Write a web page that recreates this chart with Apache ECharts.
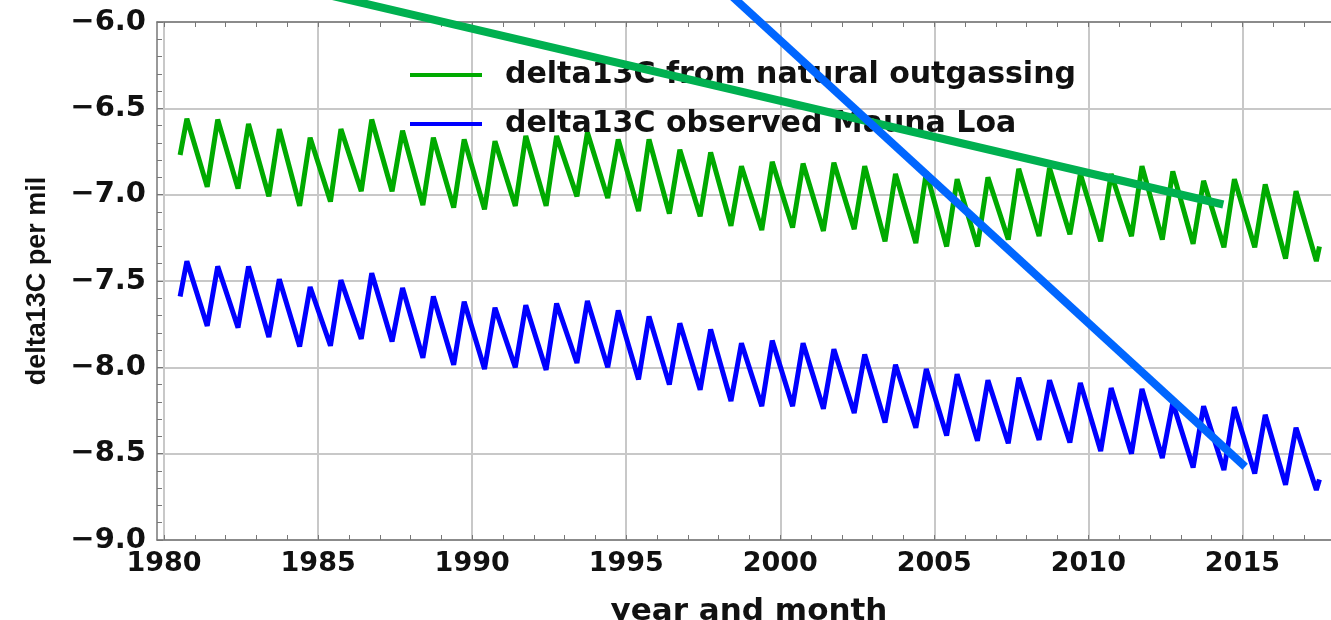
<!DOCTYPE html>
<html>
<head>
<meta charset="utf-8">
<script src="https://cdn.jsdelivr.net/npm/echarts@6/dist/echarts.min.js"></script>
<style>
  html, body { margin: 0; padding: 0; background: #fff; }
  #main { width: 1331px; height: 620px; }
</style>
</head>
<body>
<div id="main"></div>
<script>
// seasonal cycles, one peak (autumn) and one trough (next spring) per year
const cycleYears = [1980, 1981, 1982, 1983, 1984, 1985, 1986, 1987, 1988, 1989,
    1990, 1991, 1992, 1993, 1994, 1995, 1996, 1997, 1998, 1999,
    2000, 2001, 2002, 2003, 2004, 2005, 2006, 2007, 2008, 2009,
    2010, 2011, 2012, 2013, 2014, 2015, 2016];
const peakPhase = 0.74;
const troughPhase = 0.40;

// delta13C from natural outgassing
const greenStart = [1980.52, -6.77];
const greenPeaks = [-6.56, -6.565, -6.59, -6.62, -6.67, -6.62, -6.565, -6.63, -6.67, -6.68,
    -6.69, -6.66, -6.66, -6.64, -6.68, -6.68, -6.74, -6.755, -6.835, -6.81,
    -6.82, -6.815, -6.835, -6.88, -6.87, -6.91, -6.90, -6.85, -6.845, -6.88,
    -6.88, -6.835, -6.865, -6.92, -6.91, -6.94, -6.98];
const greenTroughs = [-6.955, -6.965, -7.01, -7.065, -7.04, -6.98, -6.98, -7.06, -7.075, -7.085,
    -7.065, -7.065, -7.01, -7.02, -7.095, -7.11, -7.125, -7.18, -7.205, -7.19,
    -7.21, -7.20, -7.27, -7.28, -7.30, -7.30, -7.26, -7.24, -7.23, -7.27,
    -7.24, -7.26, -7.285, -7.305, -7.305, -7.37, -7.385];
const greenEnd = [2017.5, -7.30];

// delta13C observed Mauna Loa
const blueStart = [1980.52, -7.59];
const bluePeaks = [-7.385, -7.415, -7.415, -7.49, -7.535, -7.495, -7.455, -7.54, -7.59, -7.62,
    -7.655, -7.64, -7.63, -7.615, -7.67, -7.705, -7.745, -7.78, -7.86, -7.845,
    -7.86, -7.895, -7.925, -7.985, -8.01, -8.04, -8.075, -8.06, -8.075, -8.09,
    -8.12, -8.125, -8.205, -8.225, -8.23, -8.275, -8.35];
const blueTroughs = [-7.76, -7.77, -7.825, -7.88, -7.875, -7.835, -7.85, -7.945, -7.985, -8.01,
    -8.0, -8.015, -7.975, -8.0, -8.07, -8.10, -8.13, -8.195, -8.225, -8.225,
    -8.24, -8.265, -8.32, -8.35, -8.395, -8.425, -8.44, -8.42, -8.435, -8.485,
    -8.50, -8.525, -8.58, -8.595, -8.615, -8.68, -8.71];
const blueEnd = [2017.5, -8.65];

// hand drawn trend lines
const greenTrend = [[1985.0, -5.83], [2014.38, -7.057]];
const blueTrend = [[1998.0, -5.78], [2015.09, -8.576]];

// axis ticks
const xLabelYears = [1980, 1985, 1990, 1995, 2000, 2005, 2010, 2015];
const xTickYears = [];
for (let y = 1980; y <= 2017; y++) xTickYears.push(y);

// plot runs past the right edge of the page (picture is cropped there)
const xMin = 1979.77;
const xMax = 2018.2;

function buildCurve(start, peaks, troughs, end) {
    let pts = [start];
    for (let i = 0; i < peaks.length; i++) {
        pts.push([cycleYears[i] + peakPhase, peaks[i]]);
        pts.push([cycleYears[i] + 1 + troughPhase, troughs[i]]);
    }
    pts.push(end);
    return pts;
}

const labelFont = 'DejaVu Sans';
const frameColor = '#777';
const gridColor = '#c8c8c8';

const option = {
    backgroundColor: '#fff',
    animation: false,
    grid: { left: 157, right: -10, top: 22, bottom: 80, outerBoundsMode: 'none', containLabel: false },
    legend: {
        orient: 'vertical',
        left: 405,
        top: 55,
        itemWidth: 72,
        itemHeight: 4,
        itemGap: 19,
        icon: 'rect',
        data: ['delta13C from natural outgassing', 'delta13C observed Mauna Loa'],
        textStyle: {
            fontFamily: labelFont, fontWeight: 'bold', fontSize: 30,
            color: '#111', lineHeight: 30, padding: [0, 0, 0, 18]
        }
    },
    xAxis: [{
        type: 'value', position: 'bottom', min: xMin, max: xMax,
        name: 'year and month', nameLocation: 'middle', nameGap: 56,
        nameTextStyle: { fontFamily: labelFont, fontWeight: 'bold', fontSize: 31, color: '#111' },
        axisLine: { lineStyle: { color: frameColor, width: 1.5 } },
        axisTick: { inside: true, length: 5, customValues: xTickYears, lineStyle: { color: frameColor } },
        axisLabel: {
            customValues: xLabelYears, margin: 10,
            fontFamily: labelFont, fontWeight: 'bold', fontSize: 27, color: '#111',
            formatter: v => String(v)
        },
        splitLine: { show: false }
    }, {
        type: 'value', position: 'top', min: xMin, max: xMax,
        axisLine: { lineStyle: { color: frameColor, width: 1.5 } },
        axisTick: { inside: true, length: 5, customValues: xTickYears, lineStyle: { color: frameColor } },
        axisLabel: { show: false },
        splitLine: { show: false }
    }, {
        // only carries the 5-year grid lines
        type: 'value', position: 'bottom', min: xMin, max: xMax,
        axisLine: { show: false },
        axisTick: { show: false, customValues: xLabelYears },
        axisLabel: { show: false },
        splitLine: { show: true, lineStyle: { color: gridColor, width: 2 } }
    }],
    yAxis: {
        type: 'value', min: -9, max: -6, interval: 0.5,
        name: 'delta13C per mil', nameLocation: 'middle', nameGap: 106,
        nameTextStyle: {
            fontFamily: 'Liberation Sans', fontWeight: 'bold', fontSize: 27, color: '#111'
        },
        axisLine: { show: true, lineStyle: { color: frameColor, width: 1.5 } },
        axisTick: { inside: true, length: 6, lineStyle: { color: frameColor } },
        minorTick: { show: true, splitNumber: 5, length: 5, lineStyle: { color: frameColor } },
        axisLabel: {
            margin: 11, fontFamily: labelFont, fontWeight: 'bold', fontSize: 29, color: '#111',
            formatter: v => v.toFixed(1).replace('-', '\u2212')
        },
        splitLine: { lineStyle: { color: gridColor, width: 2 } }
    },
    series: [{
        name: 'delta13C from natural outgassing',
        type: 'line', xAxisIndex: 0, z: 2,
        data: buildCurve(greenStart, greenPeaks, greenTroughs, greenEnd),
        showSymbol: false, symbol: 'none',
        lineStyle: { color: '#00aa00', width: 5 },
        itemStyle: { color: '#00aa00' }
    }, {
        name: 'delta13C observed Mauna Loa',
        type: 'line', xAxisIndex: 0, z: 2,
        data: buildCurve(blueStart, bluePeaks, blueTroughs, blueEnd),
        showSymbol: false, symbol: 'none',
        lineStyle: { color: '#0000ff', width: 5 },
        itemStyle: { color: '#0000ff' }
    }, {
        name: 'green trend',
        type: 'line', xAxisIndex: 0, z: 6, clip: false,
        data: greenTrend, symbol: 'none',
        lineStyle: { color: '#00b050', width: 8 }
    }, {
        name: 'blue trend',
        type: 'line', xAxisIndex: 0, z: 6, clip: false,
        data: blueTrend, symbol: 'none',
        lineStyle: { color: '#0066ff', width: 8 }
    }]
};

let plot = echarts.init(document.querySelector('#main'));
plot.setOption(option);
</script>
</body>
</html>
